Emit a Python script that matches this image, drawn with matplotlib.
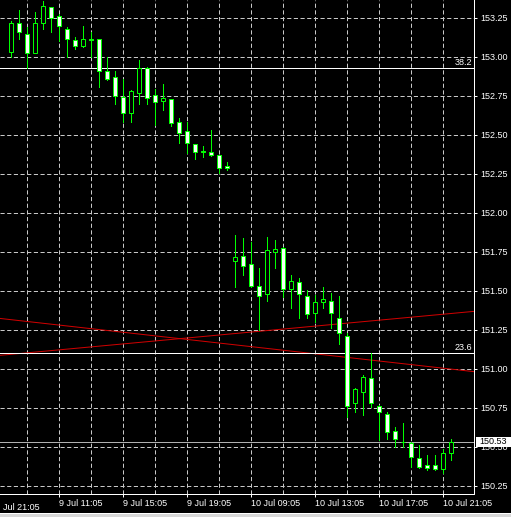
'''
EURJPY-style M30 candle chart, MT4 look (black background, green candles)
'''
import matplotlib
matplotlib.use('Agg')
from matplotlib import pyplot as plt
from matplotlib.patches import Rectangle

plt.rcParams['font.family'] = ['Liberation Sans', 'DejaVu Sans']
plt.rcParams['lines.scale_dashes'] = False

# bar index (one bar per 30 min), open / high / low / close
bars = list(range(1, 57))
opens = [153.034, 153.216, 153.145, 153.023, 153.216, 153.318, 153.264, 153.181,
         153.107, 153.072, 153.115, 153.113, 152.908, 152.869, 152.745, 152.639,
         152.767, 152.931, 152.754, 152.716, 152.728, 152.585, 152.527, 152.440,
         152.395, 152.393, 152.371, 152.301, 151.692, 151.726, 151.671, 151.534,
         151.478, 151.748, 151.777, 151.512, 151.555, 151.470, 151.357, 151.427,
         151.437, 151.326, 151.213, 150.780, 150.854, 150.940, 150.764, 150.709,
         150.604, 150.534, 150.527, 150.427, 150.384, 150.384, 150.357, 150.459]
highs = [153.232, 153.301, 153.194, 153.286, 153.359, 153.322, 153.273, 153.194,
         153.126, 153.198, 153.162, 153.115, 153.002, 152.912, 152.857, 152.790,
         152.980, 152.935, 152.793, 152.827, 152.730, 152.607, 152.585, 152.442,
         152.429, 152.532, 152.372, 152.329, 151.859, 151.837, 151.812, 151.645,
         151.848, 151.827, 151.780, 151.602, 151.581, 151.506, 151.474, 151.527,
         151.485, 151.468, 151.228, 150.875, 150.961, 151.100, 150.770, 150.726,
         150.630, 150.651, 150.530, 150.513, 150.448, 150.448, 150.485, 150.549]
lows = [153.002, 153.113, 152.929, 153.023, 153.177, 153.162, 153.104, 153.002,
        153.053, 153.064, 153.000, 152.805, 152.855, 152.698, 152.585, 152.585,
        152.698, 152.698, 152.564, 152.660, 152.557, 152.446, 152.382, 152.344,
        152.361, 152.367, 152.258, 152.275, 151.527, 151.602, 151.527, 151.250,
        151.436, 151.645, 151.463, 151.389, 151.325, 151.329, 151.303, 151.389,
        151.260, 151.158, 150.694, 150.726, 150.705, 150.758, 150.544, 150.550,
        150.502, 150.502, 150.374, 150.363, 150.352, 150.352, 150.335, 150.417]
closes = [153.216, 153.158, 153.023, 153.216, 153.327, 153.248, 153.198, 153.113,
          153.070, 153.113, 153.110, 152.912, 152.857, 152.750, 152.643, 152.780,
          152.931, 152.735, 152.711, 152.737, 152.575, 152.514, 152.446, 152.393,
          152.390, 152.369, 152.286, 152.286, 151.716, 151.660, 151.534, 151.470,
          151.761, 151.767, 151.512, 151.566, 151.478, 151.350, 151.427, 151.448,
          151.357, 151.228, 150.764, 150.871, 150.947, 150.780, 150.726, 150.598,
          150.549, 150.530, 150.438, 150.374, 150.367, 150.357, 150.459, 150.534]

# time labels (bar index -> text); the first one is cut by the left edge
time_pos = [-0.1, 7, 15, 23, 31, 39, 47, 55]
time_labels = ["Jul 21:05", "9 Jul 11:05", "9 Jul 15:05", "9 Jul 19:05",
               "10 Jul 09:05", "10 Jul 13:05", "10 Jul 17:05", "10 Jul 21:05"]
price_ticks = [150.25, 150.50, 150.75, 151.00, 151.25, 151.50, 151.75,
               152.00, 152.25, 152.50, 152.75, 153.00, 153.25]

# fibo levels and the two trend lines (anchors at bar 0 and bar 58)
fib_names = ["38.2", "23.6"]
fib_prices = [152.927, 151.100]
trend_up = [(0, 151.089), (58, 151.365)]
trend_down = [(0, 151.321), (58, 150.987)]
last_price = 150.53

W, H = 511, 517
fig = plt.figure(figsize=(W / 100, H / 100), dpi=100, facecolor='black')
ax = fig.add_axes([0, 23 / H, 474 / W, 494 / H], facecolor='black')

px = 0.72  # one pixel in points
green = '#00ff00'

# grid: dashed, every 0.25 in price and every 4 bars in time
ax.set_yticks(price_ticks)
ax.set_xticks(time_pos[1:])
ax.set_xticks(list(range(3, 56, 8)), minor=True)
ax.grid(True, which='both', color='#c8c8c8', linewidth=px, linestyle=(0, (3, 1.8)))
ax.set_axisbelow(True)

# trend lines
ax.axline(trend_up[0], trend_up[1], color='#d00000', linewidth=px, zorder=2)
ax.axline(trend_down[0], trend_down[1], color='#d00000', linewidth=px, zorder=2)

# fibo lines + level text
for name, level in zip(fib_names, fib_prices):
    ax.axhline(level, color='white', linewidth=px, zorder=2)
    ax.annotate(name, xy=(0.996, level), xycoords=('axes fraction', 'data'),
                xytext=(0, 0.8), textcoords='offset points',
                ha='right', va='bottom', color='white', fontsize=6.5)

# last price line
ax.axhline(last_price, color='#b0b0b0', linewidth=px, zorder=2)

# candles: wicks then bodies (bull = hollow, bear = white filled)
ax.vlines(bars, lows, highs, color=green, linewidth=px, antialiased=False, zorder=3)
for b, o, c in zip(bars, opens, closes):
    fill = 'black' if c > o else '#f4fff4'
    bottom = min(o, c)
    height = max(abs(c - o), 0.002)
    ax.bar(b, height, bottom=bottom, width=0.5, color=fill,
           edgecolor=green, linewidth=px, zorder=4)

ax.set_xlim(-0.4375, 58.8125)
ax.set_ylim(150.198, 153.365)

# axes styling
for side in ['left', 'top']:
    ax.spines[side].set_visible(False)
for side in ['right', 'bottom']:
    ax.spines[side].set_color('white')
    ax.spines[side].set_linewidth(px)

ax.yaxis.tick_right()
ax.set_yticklabels(["%.2f" % p for p in price_ticks])
ax.tick_params(axis='y', colors='white', labelsize=6.5, length=2.2, width=px, pad=2.6)
ax.set_xticklabels(time_labels[1:], ha='left')
ax.tick_params(axis='x', which='major', colors='white', labelsize=6.5,
               length=2.2, width=px, pad=1.6)
ax.tick_params(axis='x', which='minor', length=0)
ax.text(time_pos[0], -0.0185, time_labels[0], transform=ax.get_xaxis_transform(),
        ha='left', va='top', color='white', fontsize=6.5, clip_on=False)

# last price tag on the price scale
fig.patches.append(Rectangle((476 / W, (H - 447) / H), 35 / W, 10.5 / H,
                             transform=fig.transFigure, facecolor='white',
                             edgecolor='none', zorder=5))
fig.text(479 / W, (H - 442) / H, "%.2f" % last_price, color='black',
         fontsize=6.5, ha='left', va='center', zorder=6)

# window frame at the bottom
fig.patches.append(Rectangle((0, 0), 1, 3.5 / H, transform=fig.transFigure,
                             facecolor='#d8d8d8', edgecolor='none'))
fig.patches.append(Rectangle((0, 3.5 / H), 1, 1 / H, transform=fig.transFigure,
                             facecolor='white', edgecolor='none'))

plt.savefig('out.png', dpi=100, facecolor='black')
